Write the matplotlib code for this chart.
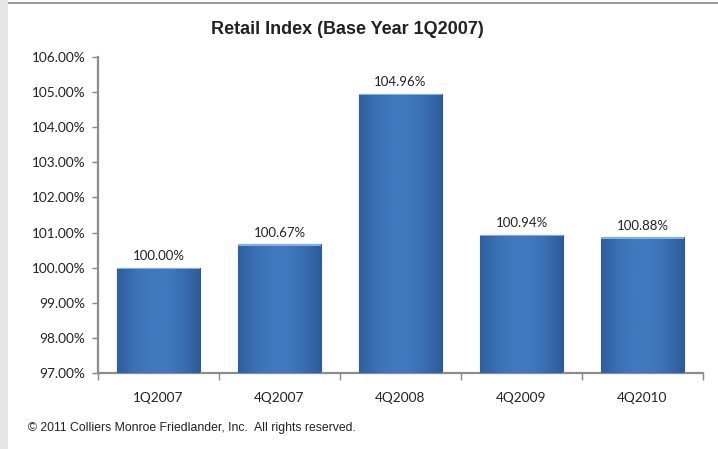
import numpy as np
import matplotlib
matplotlib.use("Agg")
import matplotlib.pyplot as plt
from matplotlib.patches import Rectangle
from matplotlib.colors import LinearSegmentedColormap

categories = ["1Q2007", "4Q2007", "4Q2008", "4Q2009", "4Q2010"]
values = [100.00, 100.67, 104.96, 100.94, 100.88]
yticks = [97, 98, 99, 100, 101, 102, 103, 104, 105, 106]

TICK_FONT = ["Lato", "DejaVu Sans"]
ARIAL = ["Liberation Sans", "DejaVu Sans"]

fig = plt.figure(figsize=(7.18, 4.49), dpi=100)
fig.patch.set_facecolor("white")
# grey frame strip on the left and top border line
fig.patches.append(Rectangle((0, 0), 8 / 718, 1, transform=fig.transFigure,
                             facecolor="#e7e5e1", edgecolor="none", zorder=0))
fig.patches.append(Rectangle((8 / 718, 1 - 4 / 449), 1, 2 / 449, transform=fig.transFigure,
                             facecolor="#9a9a9a", edgecolor="none", zorder=0))

ax = fig.add_axes([98 / 718, 1 - 373 / 449, 605 / 718, 316 / 449])
x = np.arange(len(categories))
bars = ax.bar(x, [v - 97 for v in values], bottom=97, width=0.68,
              color="#3d72b8", edgecolor="#2d5a96", linewidth=0.8, zorder=2)

# soft shading: slightly darker edges, flat middle
cmap = LinearSegmentedColormap.from_list(
    "bar", ["#2f5f9e", "#3b70b6", "#4079bf", "#4079bf", "#3a6eb3", "#2e5c9a"])
grad = np.linspace(0, 1, 64).reshape(1, -1)
for b in bars:
    x0, y0 = b.get_x(), b.get_y()
    w, h = b.get_width(), b.get_height()
    im = ax.imshow(grad, cmap=cmap, extent=[x0, x0 + w, y0, y0 + h],
                   aspect="auto", zorder=3, interpolation="bicubic")
    im.set_clip_path(b)
    ax.add_patch(Rectangle((x0, y0 + h - 0.05), w, 0.05, facecolor="#7fb0e6",
                           edgecolor="none", zorder=4))

for xi, v in zip(x, values):
    ax.text(xi, v + 0.15, f"{v:.2f}%", ha="center", va="bottom", fontsize=9.5,
            color="#222222", family=TICK_FONT)

ax.set_xlim(-0.5, len(categories) - 0.5)
ax.set_ylim(97, 106)
ax.set_yticks(yticks)
ax.set_yticklabels([f"{t:.2f}%" for t in yticks], family=TICK_FONT, fontsize=9.8, color="#222222")
ax.set_xticks(x)
ax.set_xticklabels(categories, family=TICK_FONT, fontsize=9.8, color="#222222")
ax.set_xticks(np.arange(-0.5, len(categories)), minor=True)
ax.tick_params(axis="x", which="major", length=0, pad=14)
ax.tick_params(axis="x", which="minor", length=5, color="#888888", width=1)
ax.tick_params(axis="y", length=4, color="#888888", width=1, pad=5)

for s in ["top", "right"]:
    ax.spines[s].set_visible(False)
for s in ["left", "bottom"]:
    ax.spines[s].set_color("#8c8c8c")
    ax.spines[s].set_linewidth(1.6)

fig.text(347 / 718, 1 - 30 / 449, "Retail Index (Base Year 1Q2007)", ha="center", va="center",
         fontsize=13, fontweight="bold", color="#222222", family=ARIAL)
fig.text(28 / 718, 1 - 428 / 449, "\u00a9 2011 Colliers Monroe Friedlander, Inc.  All rights reserved.",
         ha="left", va="center", fontsize=8.8, color="#222222", family=ARIAL)

fig.savefig("out.png", dpi=100)
